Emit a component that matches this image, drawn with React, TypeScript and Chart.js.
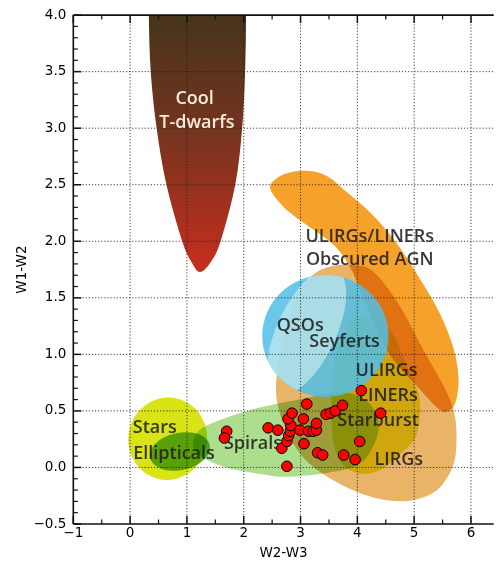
import React, { useEffect, useRef } from 'react';
import { Chart, registerables } from 'chart.js';

Chart.register(...registerables);

// ---------- axis ticks ----------
const xTickValues = [-1, 0, 1, 2, 3, 4, 5, 6];
const yTickValues = [-0.5, 0, 0.5, 1, 1.5, 2, 2.5, 3, 3.5, 4];

// ---------- galaxies (red points) ----------
const galaxyW2W3 = [1.70, 1.66, 2.43, 2.60, 2.76, 2.67, 2.76, 2.79, 2.82, 2.83, 2.78, 2.85, 3.11, 3.05, 2.99, 3.06, 3.14, 3.22, 3.28, 3.28, 3.30, 3.39, 3.45, 3.53, 3.61, 3.74, 3.76, 3.96, 4.04, 4.07, 4.41];
const galaxyW1W2 = [0.32, 0.26, 0.35, 0.33, 0.01, 0.17, 0.23, 0.28, 0.32, 0.37, 0.43, 0.48, 0.56, 0.43, 0.33, 0.21, 0.32, 0.32, 0.33, 0.39, 0.13, 0.11, 0.47, 0.48, 0.50, 0.55, 0.11, 0.07, 0.23, 0.68, 0.48];

// ---------- region outlines (W2-W3, W1-W2) ----------
const tDwarfOutline: [number, number][] = [
  [0.325, 4.5], [0.329, 4.0], [0.363, 3.5], [0.467, 3.0], [0.640, 2.5], [0.917, 2.0], [1.073, 1.823], [1.228, 1.728],
  [1.419, 1.815], [1.592, 2.0], [1.851, 2.5], [1.972, 3.0], [2.024, 3.5], [2.042, 4.0], [2.045, 4.5],
];
const obscuredAgnOutline: [number, number][] = [
  [2.465, 2.467], [2.569, 2.554], [2.795, 2.606], [3.107, 2.623], [3.454, 2.580], [3.801, 2.441], [4.235, 2.250],
  [4.669, 1.997], [5.103, 1.667], [5.450, 1.363], [5.690, 1.058], [5.780, 0.797], [5.740, 0.597], [5.623, 0.505],
  [5.450, 0.510], [5.068, 0.710], [4.548, 1.015], [4.148, 1.450], [3.888, 1.754], [3.628, 1.945], [3.281, 2.084],
  [2.934, 2.206], [2.673, 2.319],
];
const lirgOutline: [number, number][] = [
  [3.194, 1.693], [3.541, 1.780], [3.940, 1.789], [4.270, 1.737], [4.721, 1.450], [5.190, 1.015], [5.571, 0.667],
  [5.727, 0.421], [5.727, 0.101], [5.571, -0.098], [5.311, -0.230], [4.842, -0.298], [4.270, -0.263], [3.680, -0.142],
  [3.107, 0.058], [2.760, 0.319], [2.587, 0.580], [2.587, 0.839], [2.725, 1.189], [2.934, 1.493],
];
const starburstOutline: [number, number][] = [
  [4.062, 1.345], [4.409, 1.293], [4.669, 1.145], [4.842, 0.928], [5.068, 0.667], [5.103, 0.493], [5.016, 0.258],
  [4.669, 0.084], [4.374, -0.029], [4.062, -0.055], [3.767, 0.013], [3.593, 0.187], [3.541, 0.493], [3.575, 0.841],
  [3.714, 1.145],
];
const spiralOutline: [number, number][] = [
  [1.112, 0.232], [1.198, 0.319], [1.424, 0.389], [2.014, 0.493], [2.587, 0.563], [3.107, 0.615], [3.628, 0.667],
  [4.062, 0.623], [4.322, 0.493], [4.374, 0.337], [4.235, 0.145], [3.975, 0.013], [3.454, -0.048], [2.760, -0.083],
  [2.292, -0.057], [1.720, -0.004], [1.320, 0.074], [1.146, 0.145],
];
// ellipses: [centre W2-W3, centre W1-W2, half-width, half-height, tilt deg]
const starsEllipse = [0.661, 0.254, 0.694, 0.365, 10];
const ellipticalsEllipse = [0.877, 0.141, 0.538, 0.165, -12];
const qsoEllipse = [3.437, 1.163, 1.111, 0.539, 0];
const seyfertEllipse = [3.107, 1.206, 0.521, 0.609, 25];

// ---------- region labels ----------
const labelTexts = ['Cool', 'T-dwarfs', 'ULIRGs/LINERs', 'Obscured AGN', 'QSOs', 'Seyferts', 'ULIRGs', 'LINERs', 'Starburst', 'LIRGs', 'Stars', 'Ellipticals', 'Spirals'];
const labelX = [1.136, 1.176, 4.218, 4.218, 2.994, 3.775, 4.513, 4.539, 4.365, 4.730, 0.435, 0.773, 2.162];
const labelY = [3.215, 3.006, 1.997, 1.789, 1.206, 1.067, 0.806, 0.589, 0.363, 0.021, 0.302, 0.074, 0.163];
const lightLabels = ['Cool', 'T-dwarfs'];

const fmt = (v: number, d: number) => (v < 0 ? '\u2212' + Math.abs(v).toFixed(d) : Math.abs(v).toFixed(d));

function smoothClosed(ctx: CanvasRenderingContext2D, pts: [number, number][]) {
  const n = pts.length;
  ctx.moveTo(pts[0][0], pts[0][1]);
  for (let i = 0; i < n; i++) {
    const p0 = pts[(i - 1 + n) % n], p1 = pts[i], p2 = pts[(i + 1) % n], p3 = pts[(i + 2) % n];
    ctx.bezierCurveTo(
      p1[0] + (p2[0] - p0[0]) / 6, p1[1] + (p2[1] - p0[1]) / 6,
      p2[0] - (p3[0] - p1[0]) / 6, p2[1] - (p3[1] - p1[1]) / 6,
      p2[0], p2[1]
    );
  }
  ctx.closePath();
}

export default function App() {
  const ref = useRef<HTMLCanvasElement>(null);

  useEffect(() => {
    const canvas = ref.current;
    if (!canvas) return;

    const regionsPlugin = {
      id: 'wiseRegions',
      beforeDraw(chart: any) {
        const { ctx, chartArea: a, scales } = chart;
        const xs = scales.x, ys = scales.y;
        const toPx = (pts: [number, number][]) => pts.map(([u, v]) => [xs.getPixelForValue(u), ys.getPixelForValue(v)] as [number, number]);
        const outline = (pts: [number, number][], fill: any, op: string) => {
          ctx.save();
          ctx.globalCompositeOperation = op;
          ctx.beginPath();
          smoothClosed(ctx, toPx(pts));
          ctx.fillStyle = fill;
          ctx.fill();
          ctx.restore();
        };
        const ellipsePath = (e: number[]) => {
          const cx = xs.getPixelForValue(e[0]);
          const cy = ys.getPixelForValue(e[1]);
          const rx = Math.abs(xs.getPixelForValue(e[0] + e[2]) - cx);
          const ry = Math.abs(ys.getPixelForValue(e[1] + e[3]) - cy);
          ctx.beginPath();
          ctx.ellipse(cx, cy, rx, ry, (e[4] * Math.PI) / 180, 0, Math.PI * 2);
        };
        const ellipse = (e: number[], fill: string, op: string, clipTo?: number[]) => {
          ctx.save();
          if (clipTo) {
            ellipsePath(clipTo);
            ctx.clip();
          }
          ctx.globalCompositeOperation = op;
          ellipsePath(e);
          ctx.fillStyle = fill;
          ctx.fill();
          ctx.restore();
        };
        ctx.save();
        ctx.fillStyle = '#ffffff';
        ctx.fillRect(0, 0, chart.width, chart.height);
        ctx.beginPath();
        ctx.rect(a.left, a.top, a.right - a.left, a.bottom - a.top);
        ctx.clip();
        outline(lirgOutline, 'rgb(233,180,104)', 'source-over');
        outline(starburstOutline, 'rgb(207,166,14)', 'source-over');
        outline(obscuredAgnOutline, 'rgb(246,162,42)', 'multiply');
        ellipse(starsEllipse, 'rgb(217,227,22)', 'source-over');
        outline(spiralOutline, 'rgb(172,222,142)', 'multiply');
        ellipse(ellipticalsEllipse, 'rgb(105,180,70)', 'multiply');
        ellipse(qsoEllipse, 'rgba(80,190,232,0.85)', 'source-over');
        ellipse(seyfertEllipse, 'rgba(215,240,242,0.6)', 'source-over', qsoEllipse);
        const g = ctx.createLinearGradient(0, ys.getPixelForValue(4), 0, ys.getPixelForValue(1.73));
        g.addColorStop(0, 'rgb(70,52,28)');
        g.addColorStop(0.5, 'rgb(122,52,30)');
        g.addColorStop(1, 'rgb(200,45,30)');
        outline(tDwarfOutline, g, 'source-over');
        ctx.restore();
      },
      beforeDatasetsDraw(chart: any) {
        const { ctx, chartArea: a, scales } = chart;
        const xs = scales.x, ys = scales.y;
        const line = (x1: number, y1: number, x2: number, y2: number) => {
          ctx.beginPath();
          ctx.moveTo(x1, y1);
          ctx.lineTo(x2, y2);
          ctx.stroke();
        };
        ctx.save();
        // dotted grid
        ctx.strokeStyle = 'rgba(30,30,30,0.85)';
        ctx.lineWidth = 1;
        ctx.setLineDash([1.2, 1.9]);
        for (const v of xTickValues) {
          const p = xs.getPixelForValue(v);
          if (p <= a.left + 1 || p >= a.right - 1) continue;
          line(p, a.top, p, a.bottom);
        }
        for (const v of yTickValues) {
          const p = ys.getPixelForValue(v);
          if (p <= a.top + 1 || p >= a.bottom - 1) continue;
          line(a.left, p, a.right, p);
        }
        ctx.setLineDash([]);
        // tick marks (inward)
        ctx.strokeStyle = '#111';
        ctx.lineWidth = 1.5;
        for (const v of xTickValues) {
          const p = xs.getPixelForValue(v);
          line(p, a.bottom, p, a.bottom - 8);
          line(p, a.top, p, a.top + 8);
        }
        for (const v of yTickValues) {
          const p = ys.getPixelForValue(v);
          line(a.left, p, a.left + 8, p);
        }
        ctx.lineWidth = 1.2;
        for (let k = -2; k <= 13; k++) {
          if (k % 2 === 0) continue;
          const v = k / 2;
          if (v < xs.min || v > xs.max) continue;
          const p = xs.getPixelForValue(v);
          line(p, a.bottom, p, a.bottom - 4.5);
          line(p, a.top, p, a.top + 4.5);
        }
        for (let k = -5; k <= 40; k++) {
          if (k % 5 === 0) continue;
          const p = ys.getPixelForValue(k / 10);
          line(a.left, p, a.left + 4.5, p);
        }
        // frame
        ctx.lineWidth = 1.6;
        line(a.left, a.top, a.left, a.bottom);
        line(a.left, a.top, a.right, a.top);
        line(a.left, a.bottom, a.right, a.bottom);
        // labels
        ctx.font = '600 18px "Open Sans"';
        ctx.textAlign = 'center';
        ctx.textBaseline = 'alphabetic';
        labelTexts.forEach((t, i) => {
          ctx.fillStyle = lightLabels.includes(t) ? 'rgba(255,246,232,0.95)' : 'rgba(30,28,28,0.88)';
          ctx.fillText(t, xs.getPixelForValue(labelX[i]), ys.getPixelForValue(labelY[i]));
        });
        ctx.restore();
      },
    };

    const tickFont = { family: 'DejaVu Sans', size: 13.5 };
    const chart = new Chart(canvas, {
      type: 'scatter',
      data: {
        datasets: [
          {
            data: galaxyW2W3.map((v, i) => ({ x: v, y: galaxyW1W2[i] })),
            backgroundColor: 'rgb(255,0,0)',
            borderColor: '#000',
            borderWidth: 1,
            pointRadius: 5.3,
          },
        ],
      },
      options: {
        responsive: false,
        animation: false,
        devicePixelRatio: 1,
        events: [],
        layout: { padding: { top: 6.7, left: 0, right: 0, bottom: 0 } },
        plugins: { legend: { display: false }, tooltip: { enabled: false } },
        scales: {
          x: {
            type: 'linear',
            min: -1,
            max: 6.4,
            afterBuildTicks: (s: any) => {
              s.ticks = xTickValues.map((v) => ({ value: v }));
            },
            afterFit: (s: any) => {
              s.height = 44;
            },
            grid: { display: false, drawTicks: false },
            border: { display: false },
            ticks: {
              font: tickFont,
              color: '#000',
              padding: 1,
              maxRotation: 0,
              autoSkip: false,
              callback: (v: any) => fmt(Number(v), 0),
            },
            title: { display: true, text: 'W2-W3', font: tickFont, color: '#000', padding: { top: 0, bottom: 6 } },
          },
          y: {
            type: 'linear',
            min: -0.5,
            max: 4,
            afterBuildTicks: (s: any) => {
              s.ticks = yTickValues.map((v) => ({ value: v }));
            },
            afterFit: (s: any) => {
              s.width = 73.3;
            },
            grid: { display: false, drawTicks: false },
            border: { display: false },
            ticks: {
              font: tickFont,
              color: '#000',
              padding: 7,
              autoSkip: false,
              callback: (v: any) => fmt(Number(v), 1),
            },
            title: { display: true, text: 'W1-W2', font: tickFont, color: '#000', padding: { top: 14, bottom: 0 } },
          },
        },
      },
      plugins: [regionsPlugin],
    } as any);

    return () => chart.destroy();
  }, []);

  return (
    <div style={{ position: 'fixed', left: 0, top: 0, width: 500, height: 568, background: '#fff' }}>
      <canvas ref={ref} width={500} height={568} style={{ display: 'block', width: 500, height: 568 }} />
    </div>
  );
}
